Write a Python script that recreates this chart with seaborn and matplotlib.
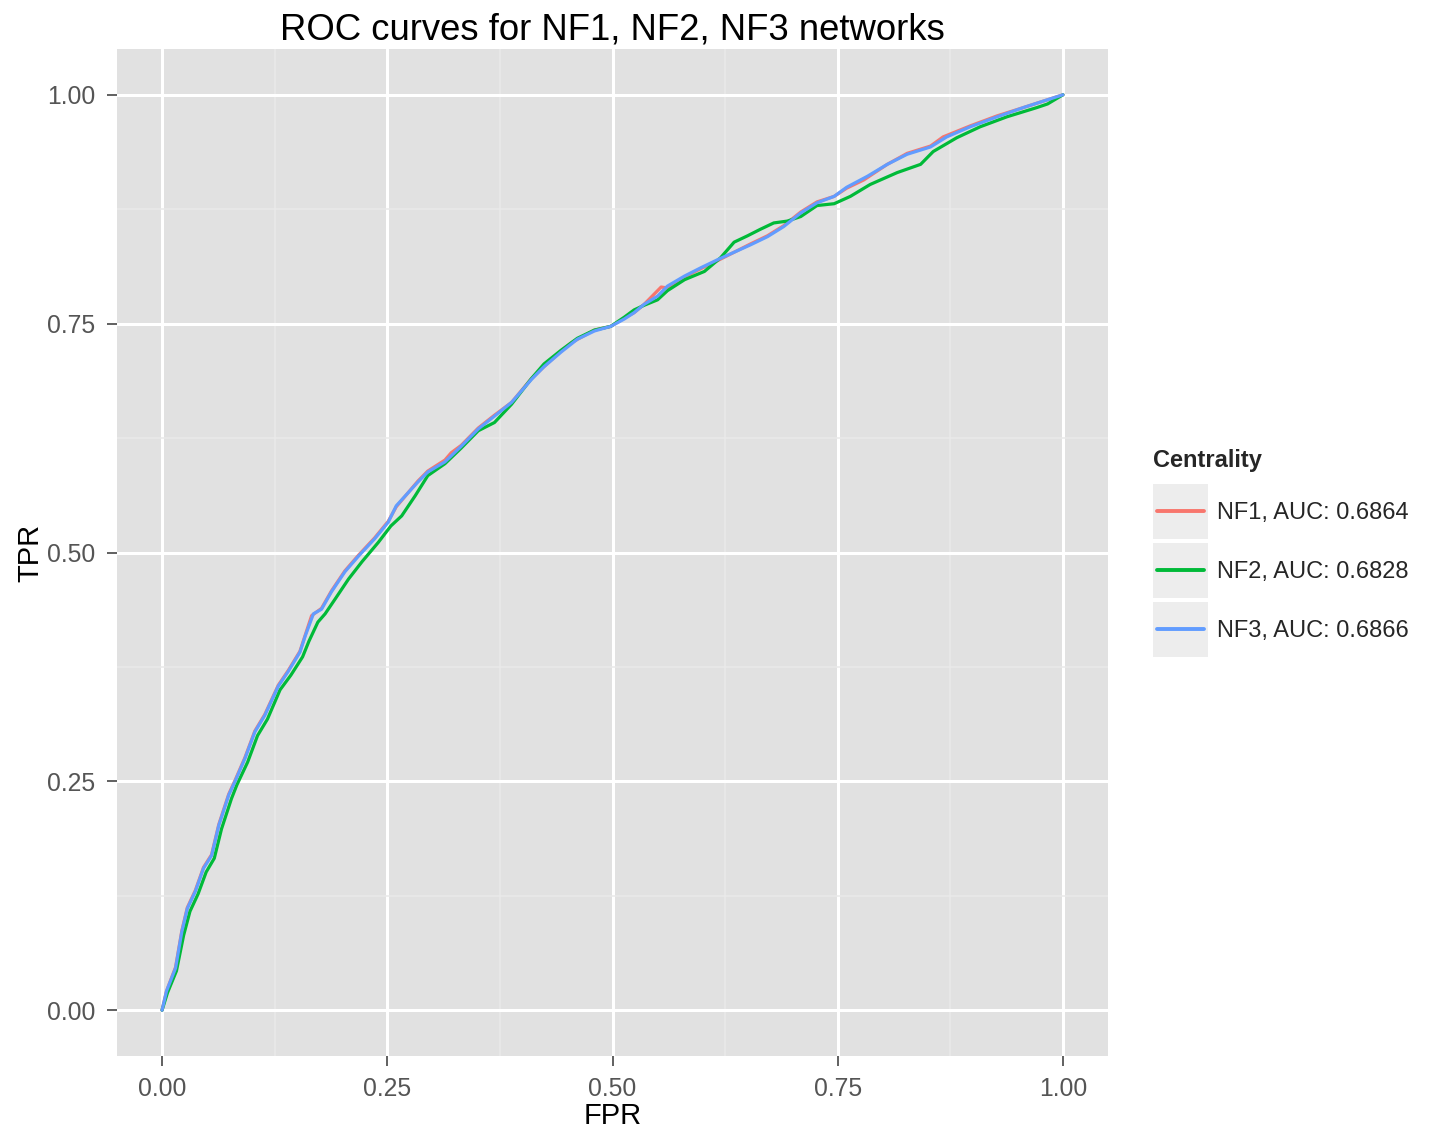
import numpy as np
import pandas as pd
import matplotlib
matplotlib.use("Agg")
import matplotlib.pyplot as plt
import seaborn as sns
from matplotlib.legend_handler import HandlerLine2D
from matplotlib.lines import Line2D
from matplotlib.patches import Rectangle

# ---------------- data ----------------
series_names = ["NF1, AUC: 0.6864", "NF2, AUC: 0.6828", "NF3, AUC: 0.6866"]
series_colors = ["#F8766D", "#00BA38", "#619CFF"]

nf1_fpr = [0, .005, .015, .022, .028, .037, .046, .055, .063, .074, .081, .092, .103,
           .114, .129, .140, .153, .159, .166, .177, .188, .203, .218, .236, .251, .260,
           .284, .295, .314, .321, .332, .351, .369, .388, .410, .424, .443, .454, .480,
           .498, .513, .524, .535, .554, .561, .580, .598, .617, .635, .653, .672, .690,
           .709, .727, .746, .760, .779, .805, .827, .853, .867, .897, .927, .956, .978, 1.0]
nf1_tpr = [0, .021, .047, .087, .112, .131, .156, .170, .203, .236, .251, .276, .305,
           .323, .355, .371, .392, .410, .431, .439, .458, .480, .497, .516, .534, .550,
           .578, .589, .601, .609, .617, .636, .650, .664, .690, .703, .720, .729, .743,
           .747, .756, .762, .771, .790, .789, .801, .810, .819, .828, .837, .846, .857,
           .872, .883, .889, .898, .907, .924, .936, .944, .954, .966, .977, .986, .993, 1.0]

nf2_fpr = [0, .006, .016, .024, .031, .040, .049, .058, .066, .077, .083, .095, .106,
           .117, .131, .143, .156, .163, .173, .181, .192, .207, .222, .240, .254, .266,
           .281, .295, .314, .332, .351, .369, .388, .410, .424, .443, .461, .480, .498,
           .513, .524, .535, .550, .561, .580, .602, .620, .635, .650, .664, .679, .694,
           .709, .727, .746, .764, .786, .816, .842, .856, .882, .908, .938, .971, .983, 1.0]
nf2_tpr = [0, .019, .043, .082, .108, .127, .151, .166, .198, .231, .246, .271, .300,
           .318, .350, .366, .386, .403, .424, .433, .449, .471, .490, .511, .529, .540,
           .562, .584, .597, .614, .633, .642, .662, .690, .706, .721, .734, .743, .747,
           .757, .765, .770, .776, .786, .798, .807, .822, .839, .846, .853, .860, .862,
           .867, .879, .881, .889, .902, .915, .924, .938, .953, .965, .976, .986, .990, 1.0]

nf3_fpr = [0, .005, .015, .022, .028, .037, .046, .055, .063, .074, .081, .092, .103,
           .114, .129, .140, .153, .159, .168, .177, .188, .203, .218, .236, .251, .260,
           .284, .295, .314, .332, .351, .369, .388, .410, .424, .443, .461, .480, .498,
           .513, .524, .535, .550, .561, .580, .598, .617, .635, .653, .672, .690, .709,
           .727, .746, .760, .783, .805, .827, .853, .871, .897, .927, .956, .978, 1.0]
nf3_tpr = [0, .021, .046, .086, .111, .130, .155, .169, .202, .235, .250, .275, .304,
           .322, .354, .370, .391, .409, .433, .438, .457, .479, .496, .515, .533, .551,
           .577, .588, .599, .616, .635, .649, .664, .689, .703, .719, .733, .742, .747,
           .755, .762, .771, .780, .791, .802, .811, .820, .828, .836, .845, .856, .871,
           .882, .889, .899, .911, .924, .935, .943, .954, .965, .976, .986, .993, 1.0]

tick_values = [0.00, 0.25, 0.50, 0.75, 1.00]
tick_labels = ["0.00", "0.25", "0.50", "0.75", "1.00"]

rows = []
for name, fx, ty in zip(series_names, [nf1_fpr, nf2_fpr, nf3_fpr], [nf1_tpr, nf2_tpr, nf3_tpr]):
    for a, b in zip(fx, ty):
        rows.append({"FPR": a, "TPR": b, "Centrality": name})
df = pd.DataFrame(rows)

# ---------------- styling ----------------
sns.set_theme(style="darkgrid")
plt.rcParams["font.family"] = ["Liberation Sans", "DejaVu Sans"]

W, H = 1434, 1131
fig = plt.figure(figsize=(W / 100, H / 100), dpi=100)
ax = fig.add_axes([117 / W, 1 - 1056 / H, (1108 - 117) / W, (1056 - 49) / H])
ax.set_facecolor("#E1E1E1")

sns.lineplot(data=df, x="FPR", y="TPR", hue="Centrality", palette=series_colors,
             hue_order=series_names, sort=False, estimator=None, units="Centrality",
             linewidth=2.3, ax=ax, legend=False)

ax.set_xlim(-0.05, 1.05)
ax.set_ylim(-0.05, 1.05)
ax.set_xticks(tick_values)
ax.set_xticklabels(tick_labels)
ax.set_yticks(tick_values)
ax.set_yticklabels(tick_labels)
ax.set_xticks([0.125, 0.375, 0.625, 0.875], minor=True)
ax.set_yticks([0.125, 0.375, 0.625, 0.875], minor=True)
ax.grid(which="major", color="white", linewidth=2.2)
ax.grid(which="minor", color="#EAEAEA", linewidth=1.1)
ax.set_axisbelow(True)
for s in ax.spines.values():
    s.set_visible(False)

ax.tick_params(axis="both", which="major", length=7, width=1.4, color="#606060",
               labelsize=17.8, labelcolor="#555555", bottom=True, left=True)
ax.tick_params(axis="x", which="major", pad=8)
ax.tick_params(axis="y", which="major", pad=8.5)
ax.tick_params(axis="both", which="minor", length=0)

ax.set_xlabel("FPR", fontsize=21, color="black", labelpad=1)
ax.set_ylabel("TPR", fontsize=21, color="black", labelpad=2)
ax.set_title("ROC curves for NF1, NF2, NF3 networks", fontsize=26.3, color="black", pad=7)


class KeyHandler(HandlerLine2D):
    key_h = 39.6  # points
    y_mid = 5.5   # points above the label baseline

    def create_artists(self, legend, orig_handle, xdescent, ydescent, width, height,
                       fontsize, trans):
        yc = self.y_mid
        rect = Rectangle((-xdescent, yc - self.key_h / 2.0), width, self.key_h,
                         facecolor="#EDEDED", edgecolor="none", transform=trans)
        inset = 3.0
        line = Line2D([-xdescent + inset, -xdescent + width - inset], [yc, yc],
                      color=orig_handle.get_color(), linewidth=orig_handle.get_linewidth(),
                      transform=trans)
        return [rect, line]


legend_fs = 17
handles = [Line2D([], [], color=c, linewidth=2.8) for c in series_colors]
leg = fig.legend(handles, series_names, loc="center left",
                 bbox_to_anchor=(1153 / W, 1 - 549 / H), frameon=False,
                 fontsize=legend_fs, title="Centrality",
                 title_fontproperties={"weight": "bold", "size": legend_fs},
                 handlelength=39.6 / legend_fs, handleheight=2.146,
                 labelspacing=0.86, handletextpad=0.38, borderpad=0.0, borderaxespad=0.0,
                 alignment="left", handler_map={Line2D: KeyHandler()})

fig.savefig("out.png", dpi=100)
